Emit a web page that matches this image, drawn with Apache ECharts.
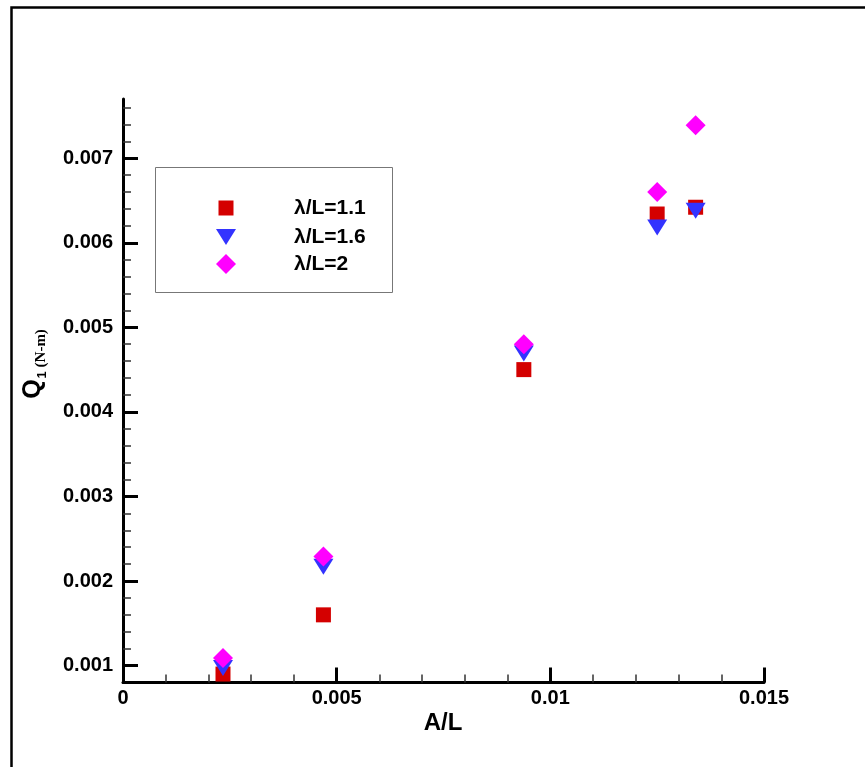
<!DOCTYPE html>
<html>
<head>
<meta charset="utf-8">
<style>
html,body{margin:0;padding:0;background:#fff;}
#chart{width:865px;height:767px;}
</style>
<script src="https://cdn.jsdelivr.net/npm/echarts@6/dist/echarts.min.js"></script>
</head>
<body>
<div id="chart"></div>
<script>
// ---- data ----
var seriesNames = ['λ/L=1.1', 'λ/L=1.6', 'λ/L=2'];
var xValues = [0.00234, 0.00469, 0.00938, 0.0125, 0.0134];
var q1_11 = [0.0009, 0.0016, 0.0045, 0.00634, 0.00642];
var q1_16 = [0.00097, 0.00217, 0.00469, 0.00618, 0.00638];
var q1_20 = [0.00109, 0.00229, 0.0048, 0.0066, 0.00739];
var yMajorTicks = [0.001, 0.002, 0.003, 0.004, 0.005, 0.006, 0.007];
var yMinorTicks = [0.0012, 0.0014, 0.0016, 0.0018, 0.0022, 0.0024, 0.0026, 0.0028,
  0.0032, 0.0034, 0.0036, 0.0038, 0.0042, 0.0044, 0.0046, 0.0048,
  0.0052, 0.0054, 0.0056, 0.0058, 0.0062, 0.0064, 0.0066, 0.0068,
  0.0072, 0.0074, 0.0076];
var xTickLabels = ['0', '0.005', '0.01', '0.015'];

function pairs(xs, ys) { return xs.map(function (x, i) { return [x, ys[i]]; }); }

var FONT = '"Liberation Sans", Arial, sans-serif';
var triDown = 'path://M0,0L20,0L10,16Z';
var colors = ['#d40000', '#3333ff', '#ff00ff'];

var chart = echarts.init(document.getElementById('chart'), null, {renderer: 'canvas'});

// legend: icon centred at x=226, text starting at x=294
function legendFor(i, icon, w, h, centerY) {
  var left = 226 - w / 2;
  var textStart = left + w + 5;
  var rowH = Math.max(h, 22);
  return {
    show: true, data: [{name: seriesNames[i], icon: icon}], orient: 'vertical',
    left: left, top: centerY - rowH / 2, padding: 0, itemWidth: w, itemHeight: h, itemGap: 0,
    selectedMode: false,
    textStyle: {fontFamily: FONT, fontWeight: 'bold', fontSize: 21, color: '#000', lineHeight: 22,
      padding: [0, 0, 0, 294 - textStart]}
  };
}

var option = {
  backgroundColor: '#fff',
  animation: false,
  grid: {left: 123, right: 101, top: 99, bottom: 84.5, containLabel: false},
  xAxis: {
    type: 'value', min: 0, max: 0.015, interval: 0.005,
    axisLine: {show: true, onZero: false, lineStyle: {color: '#000', width: 3}},
    axisTick: {show: true, inside: true, length: 15, lineStyle: {color: '#000', width: 3}},
    minorTick: {show: true, splitNumber: 5, length: 8, lineStyle: {color: '#333', width: 1.5}},
    splitLine: {show: false}, minorSplitLine: {show: false},
    axisLabel: {margin: 6, fontFamily: FONT, fontWeight: 'bold', fontSize: 20, color: '#000',
      formatter: function (v) { return xTickLabels[Math.round(v / 0.005)]; }}
  },
  yAxis: [{
    type: 'value', min: 0.0008, max: 0.0077,
    axisLine: {show: true, onZero: false, lineStyle: {color: '#000', width: 3}},
    axisTick: {show: true, inside: true, length: 15, customValues: yMajorTicks, lineStyle: {color: '#000', width: 3}},
    splitLine: {show: false},
    axisLabel: {customValues: yMajorTicks, margin: 10, fontFamily: FONT, fontWeight: 'bold', fontSize: 20, color: '#000',
      formatter: function (v) { return String(parseFloat(v.toPrecision(6))); }}
  }, {
    type: 'value', min: 0.0008, max: 0.0077, position: 'left', offset: 0,
    axisLine: {show: false},
    axisTick: {show: true, inside: true, length: 8, customValues: yMinorTicks, lineStyle: {color: '#333', width: 1.5}},
    splitLine: {show: false},
    axisLabel: {show: false}
  }],
  legend: [
    legendFor(0, 'rect', 15, 15, 208),
    legendFor(1, triDown, 20, 16, 237),
    legendFor(2, 'diamond', 20, 20, 264)
  ],
  series: [{
    name: seriesNames[0], type: 'scatter', yAxisIndex: 0, symbol: 'rect', symbolSize: 15,
    itemStyle: {color: colors[0], opacity: 1}, data: pairs(xValues, q1_11), z: 2
  }, {
    name: seriesNames[1], type: 'scatter', yAxisIndex: 0, symbol: triDown, symbolSize: [20, 16],
    itemStyle: {color: colors[1], opacity: 1}, data: pairs(xValues, q1_16), z: 3
  }, {
    name: seriesNames[2], type: 'scatter', yAxisIndex: 0, symbol: 'diamond', symbolSize: 20,
    itemStyle: {color: colors[2], opacity: 1}, data: pairs(xValues, q1_20), z: 4
  }],
  graphic: [
    {type: 'rect', shape: {x: 11.5, y: 7.5, width: 1000, height: 1000}, style: {fill: 'none', stroke: '#000', lineWidth: 2.5}, silent: true},
    {type: 'rect', shape: {x: 155.5, y: 167.5, width: 237, height: 125}, style: {fill: 'none', stroke: '#777', lineWidth: 1}, silent: true},
    {type: 'text', x: 443, y: 723, style: {text: 'A/L', font: 'bold 24px ' + FONT, fill: '#000', textAlign: 'center', textVerticalAlign: 'middle'}, silent: true},
    {type: 'text', x: 33.5, y: 364, rotation: Math.PI / 2, silent: true,
      style: {
        text: '{q|Q}{s|1}{u| (N-m)}', textAlign: 'center', textVerticalAlign: 'middle', fill: '#000',
        rich: {
          q: {fontFamily: FONT, fontWeight: 'bold', fontSize: 25, lineHeight: 30, verticalAlign: 'middle'},
          s: {fontFamily: FONT, fontWeight: 'bold', fontSize: 13, lineHeight: 2, verticalAlign: 'bottom', padding: [0, 0, 0, 1]},
          u: {fontFamily: '"Liberation Serif", serif', fontWeight: 'bold', fontSize: 15, lineHeight: 17, verticalAlign: 'bottom'}
        }
      }}
  ]
};
chart.setOption(option);
</script>
</body>
</html>
